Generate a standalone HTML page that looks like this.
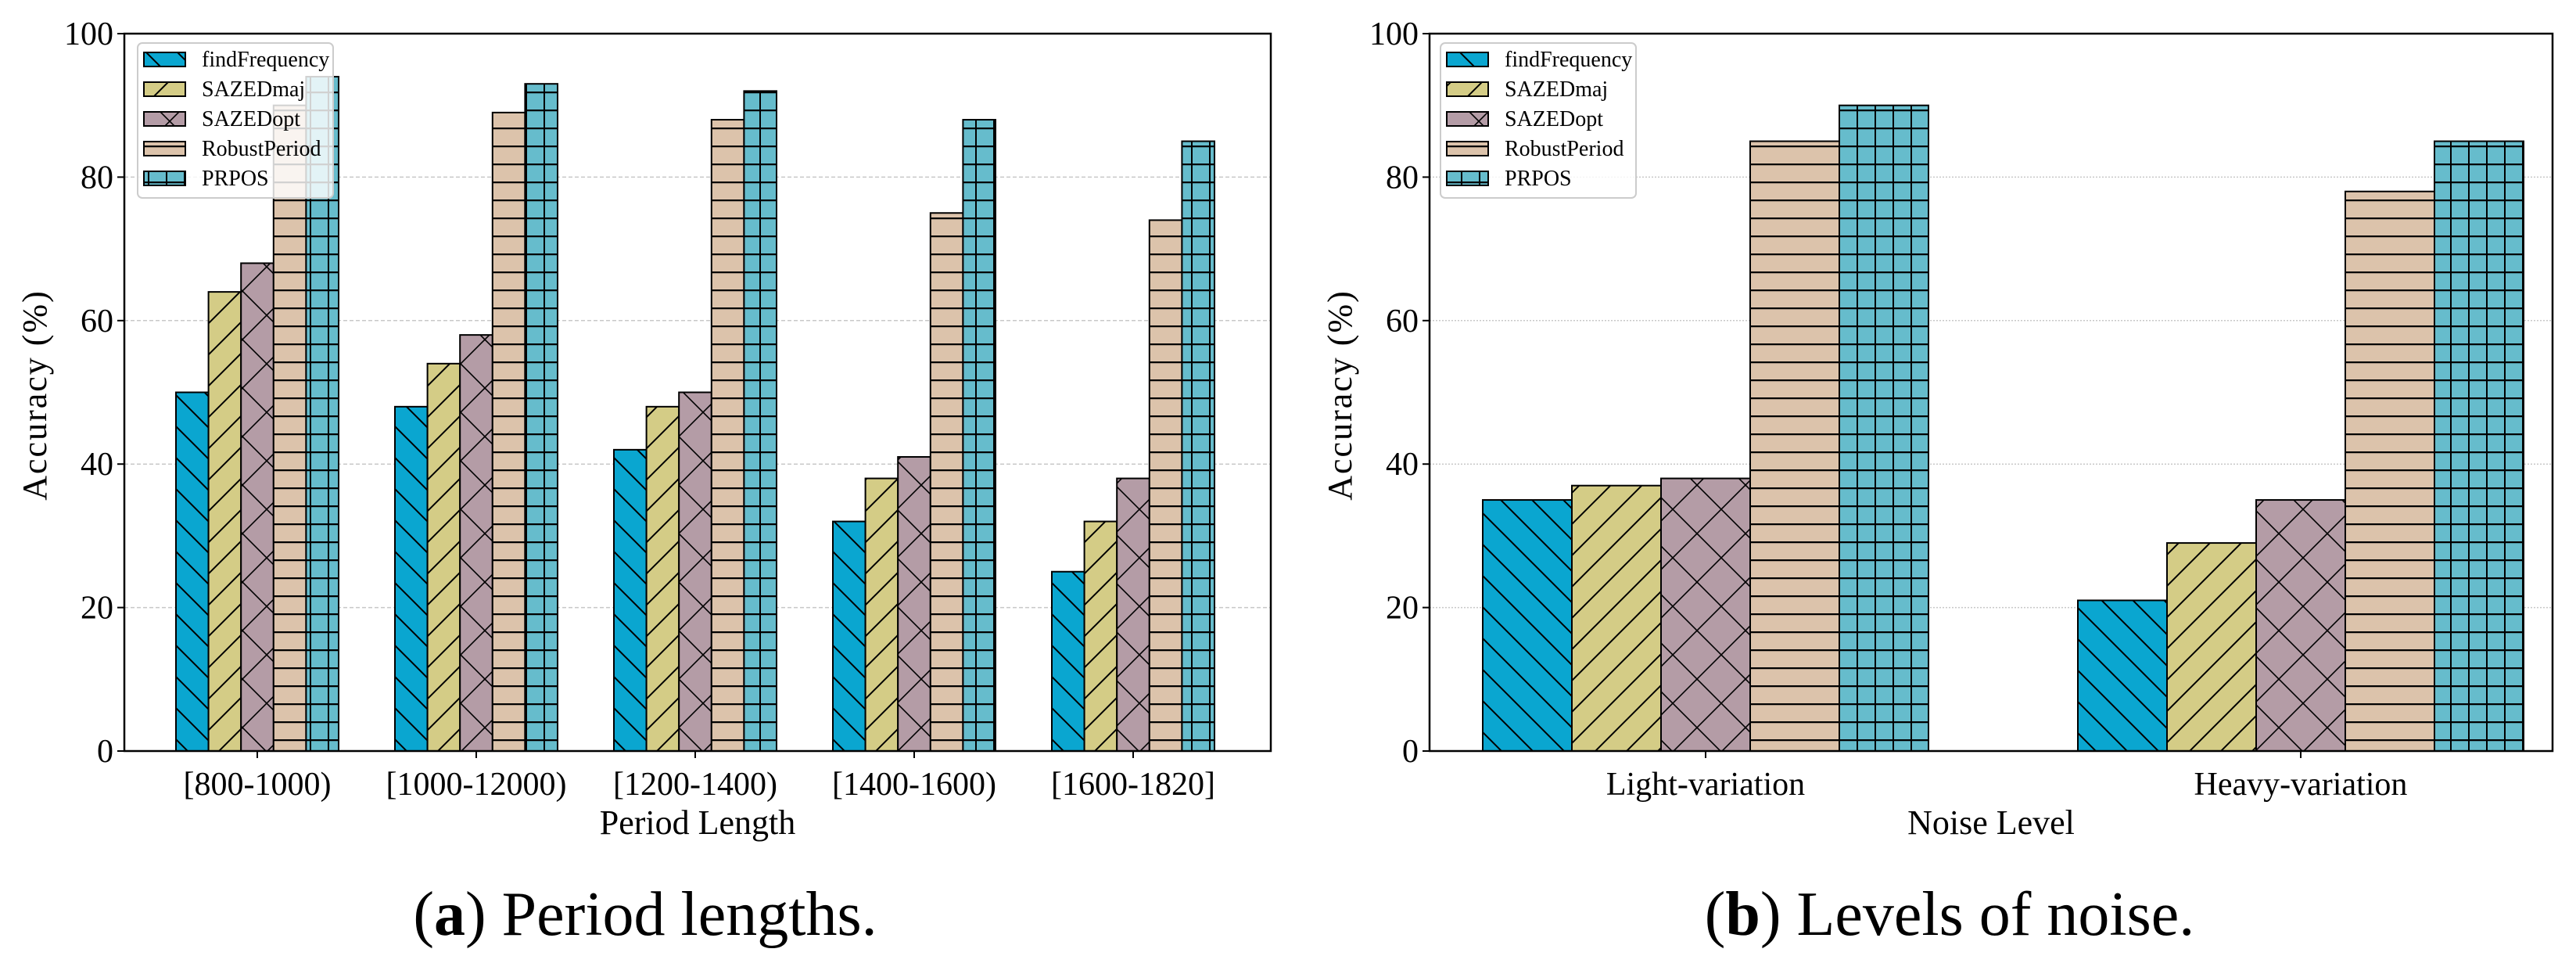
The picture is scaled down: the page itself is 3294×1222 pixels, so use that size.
<!DOCTYPE html>
<html><head><meta charset="utf-8"><style>
html,body{margin:0;padding:0;background:#fff;}
svg{display:block;font-family:"Liberation Serif",serif;}
</style></head><body>
<svg id="fig" width="3294" height="1222" viewBox="0 0 3294 1222">
<defs>
<pattern id="p0" patternUnits="userSpaceOnUse" width="40" height="40"><line x1="-10" y1="-10" x2="50" y2="50" stroke="#000" stroke-width="2"/><line x1="-30" y1="10" x2="10" y2="50" stroke="#000" stroke-width="2"/><line x1="10" y1="-30" x2="50" y2="10" stroke="#000" stroke-width="2"/></pattern>
<pattern id="p1" patternUnits="userSpaceOnUse" width="40" height="40"><line x1="-10" y1="50" x2="50" y2="-10" stroke="#000" stroke-width="2"/><line x1="-30" y1="30" x2="10" y2="-10" stroke="#000" stroke-width="2"/><line x1="30" y1="50" x2="50" y2="30" stroke="#000" stroke-width="2"/></pattern>
<pattern id="p2" patternUnits="userSpaceOnUse" width="62" height="62"><line x1="0" y1="0" x2="62" y2="62" stroke="#000" stroke-width="1.6"/><line x1="0" y1="62" x2="62" y2="0" stroke="#000" stroke-width="1.6"/></pattern>
<pattern id="p3" patternUnits="userSpaceOnUse" width="40" height="23" y="2"><line x1="0" y1="1" x2="40" y2="1" stroke="#000" stroke-width="2.5"/></pattern>
<pattern id="p4" patternUnits="userSpaceOnUse" width="23" height="23" y="2" x="5"><line x1="0" y1="1" x2="23" y2="1" stroke="#000" stroke-width="2.5"/><line x1="1" y1="0" x2="1" y2="23" stroke="#000" stroke-width="2"/></pattern>
</defs>
<g id="chartA"></g>
<g id="chartB"></g>
<text x="825" y="1195" font-size="80" text-anchor="middle">(<tspan font-weight="bold">a</tspan>) Period lengths.</text>
<text x="2493" y="1195" font-size="80" text-anchor="middle">(<tspan font-weight="bold">b</tspan>) Levels of noise.</text>
</svg>
<script>
const seriesNames = ["findFrequency","SAZEDmaj","SAZEDopt","RobustPeriod","PRPOS"];
const catsA = ["[800-1000)","[1000-12000)","[1200-1400)","[1400-1600)","[1600-1820]"];
const findFreqA = [50,48,42,32,25];
const sazedMajA = [64,54,48,38,32];
const sazedOptA = [68,58,50,41,38];
const robustA = [90,89,88,75,74];
const prposA = [94,93,92,88,85];
const catsB = ["Light-variation","Heavy-variation"];
const findFreqB = [35,21];
const sazedMajB = [37,29];
const sazedOptB = [38,35];
const robustB = [85,78];
const prposB = [90,85];
const yTicks = [0,20,40,60,80,100];

const colors = ["#0aa6d0","#d4cc86","#b49ca6","#dcc3ab","#66bccc"];
const NS = "http://www.w3.org/2000/svg";
function mk(parent, tag, attrs, text){
  const e = document.createElementNS(NS, tag);
  for (const k in attrs) e.setAttribute(k, attrs[k]);
  if (text !== undefined) e.textContent = text;
  parent.appendChild(e); return e;
}
function drawChart(g, cfg){
  const {left,right,top,bottom,cats,series,centers,barW,xLabel,legendX,gridDash,prefix} = cfg;
  const y = v => bottom - v/100*(bottom-top);
  yTicks.forEach(t=>{
    if (t>0 && t<100){
      const gl = mk(g,"line",{x1:left,x2:right,y1:y(t),y2:y(t),stroke:"#c8c8c8","stroke-width":1.5,"stroke-dasharray":gridDash});
      
      
    }
    const tk = mk(g,"line",{x1:left-9,x2:left,y1:y(t),y2:y(t),stroke:"#000","stroke-width":2});
    
    
    const tl = mk(g,"text",{x:left-14,y:y(t)+14,"font-size":42,"text-anchor":"end"},String(t));
    
    
  });
  cats.forEach((c,i)=>{
    const cx = centers[i];
    series.forEach((vals,s)=>{
      const x0 = cx - barW*2.5 + s*barW;
      const r = mk(g,"rect",{x:x0,y:y(vals[i]),width:barW,height:bottom-y(vals[i]),fill:colors[s],stroke:"none"});
      
      
      const h = mk(g,"rect",{x:x0,y:y(vals[i]),width:barW,height:bottom-y(vals[i]),fill:"url(#p"+s+")",stroke:"#000","stroke-width":2});
      
      
    });
    const xt = mk(g,"line",{x1:cx,x2:cx,y1:bottom,y2:bottom+9,stroke:"#000","stroke-width":2});
    
    
    const xl = mk(g,"text",{x:cx,y:bottom+56,"font-size":42,"text-anchor":"middle"},c);
    
    
  });
  const frame = mk(g,"rect",{x:left,y:top,width:right-left,height:bottom-top,fill:"none",stroke:"#000","stroke-width":2.5});
  
  
  const xa = mk(g,"text",{x:(left+right)/2,y:1066,"font-size":44,"text-anchor":"middle"},xLabel);
  
  
  const ya = mk(g,"text",{x:0,y:0,"font-size":44,"text-anchor":"middle","letter-spacing":"2",transform:"translate("+(left-100)+",505) rotate(-90)"},"Accuracy (%)");
  
  
  // legend
  const lg = mk(g,"g",{});
  
  
  mk(lg,"rect",{x:legendX,y:55,width:250,height:198,rx:6,fill:"#fff","fill-opacity":0.82,stroke:"#cccccc","stroke-width":2});
  seriesNames.forEach((n,s)=>{
    const yy = 76 + s*38;
    const e = mk(lg,"g",{});
    
    
    mk(e,"rect",{x:legendX+8,y:yy-9,width:53,height:18,fill:colors[s]});
    mk(e,"rect",{x:legendX+8,y:yy-9,width:53,height:18,fill:"url(#p"+s+")",stroke:"#000","stroke-width":2});
    mk(e,"text",{x:legendX+82,y:yy+9,"font-size":28},n);
  });
}
drawChart(document.getElementById("chartA"),{
  left:159,right:1625,top:43,bottom:960,cats:catsA,
  series:[findFreqA,sazedMajA,sazedOptA,robustA,prposA],
  centers:[329,609,889,1169,1449],barW:41.6,xLabel:"Period Length",legendX:176,gridDash:"5,3",prefix:"a"});
drawChart(document.getElementById("chartB"),{
  left:1828,right:3264,top:43,bottom:960,cats:catsB,
  series:[findFreqB,sazedMajB,sazedOptB,robustB,prposB],
  centers:[2181,2942],barW:114,xLabel:"Noise Level",legendX:1842,gridDash:"2,2",prefix:"b"});
</script>
</body></html>
